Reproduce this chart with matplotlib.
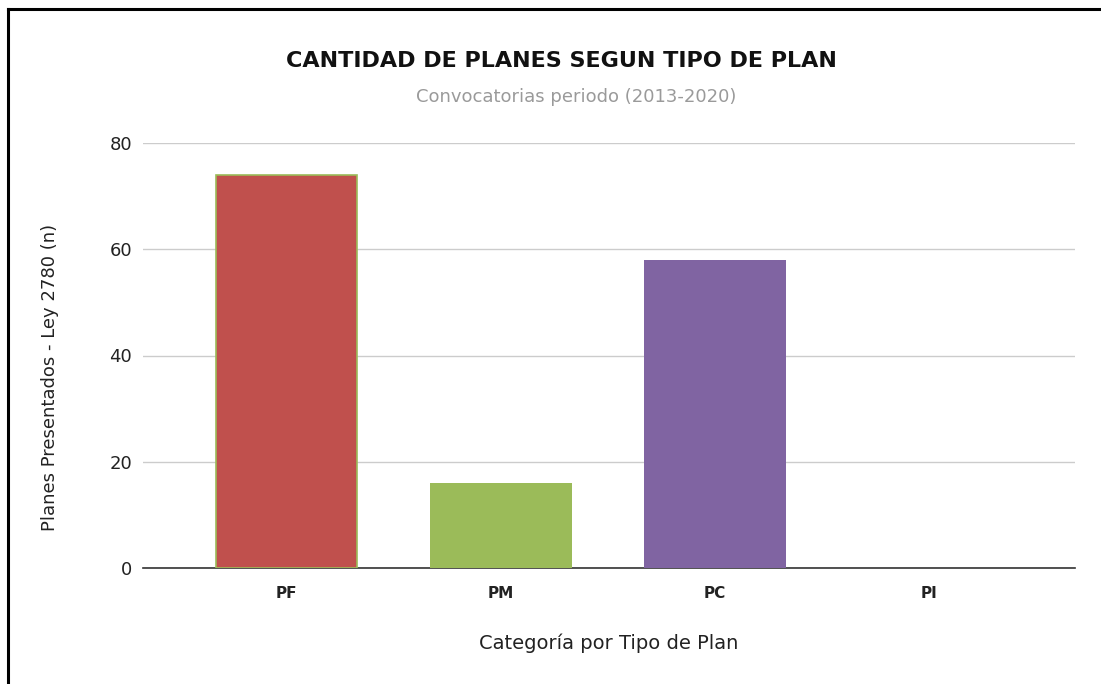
import matplotlib.pyplot as plt
from matplotlib.lines import Line2D

categorias = ['PF', 'PM', 'PC', 'PI']
planes = [74, 16, 58, 0]
colores = ['#c0504d', '#9bbb59', '#8064a2', '#4bacc6']

fig = plt.figure(figsize=(11.01, 6.84), dpi=100)
ax = fig.add_axes([143 / 1101, 1 - 568 / 684, (1075 - 143) / 1101, (568 - 143) / 684])

x = range(len(categorias))
barras = ax.bar(x, planes, width=0.66, color=colores, linewidth=0, zorder=3)
# only the first bar has a thin green outline
barras[0].set_edgecolor('#9bbb59')
barras[0].set_linewidth(1.2)

ax.set_xlim(-0.67, 3.68)
ax.set_ylim(0, 80)
ax.set_yticks([0, 20, 40, 60, 80])
ax.set_xticks(list(x))
ax.set_xticklabels(categorias, fontfamily='DejaVu Sans', fontsize=11, fontweight='bold', color='#222222')
ax.tick_params(axis='y', length=0, pad=8, labelsize=13, labelcolor='#222222')
ax.tick_params(axis='x', length=0, pad=13)

ax.grid(axis='y', color='#cccccc', linewidth=1, zorder=0)
for s in ['top', 'right', 'left']:
    ax.spines[s].set_visible(False)
ax.spines['bottom'].set_color('#333333')
ax.spines['bottom'].set_linewidth(1.2)

ax.set_ylabel('Planes Presentados - Ley 2780 (n)', fontfamily='DejaVu Sans', fontsize=13, color='#222222')
ax.set_xlabel('Categoría por Tipo de Plan', fontfamily='DejaVu Sans', fontsize=14, color='#222222')
ax.yaxis.set_label_coords((50 - 143) / 932, (568 - 377) / 425)
ax.xaxis.set_label_coords(0.5, -(643 - 568) / 425)
ax.xaxis.label.set_va('center')
ax.yaxis.label.set_va('center')

fig.text(561 / 1101, 1 - 61 / 684, 'CANTIDAD DE PLANES SEGUN TIPO DE PLAN', ha='center', va='center',
         fontfamily='DejaVu Sans', fontweight='bold', fontsize=16, color='#111111')
fig.text(576 / 1101, 1 - 97 / 684, 'Convocatorias periodo (2013-2020)', ha='center', va='center',
         fontfamily='DejaVu Sans', fontsize=13, color='#9a9a9a')

# frame lines on top and left edge of the picture
fig.add_artist(Line2D([7.5 / 1101, 1], [1 - 8.5 / 684, 1 - 8.5 / 684], color='black', lw=2.2))
fig.add_artist(Line2D([7.5 / 1101, 7.5 / 1101], [0, 1 - 8.5 / 684], color='black', lw=2.2))

fig.savefig('out.png', dpi=100)
